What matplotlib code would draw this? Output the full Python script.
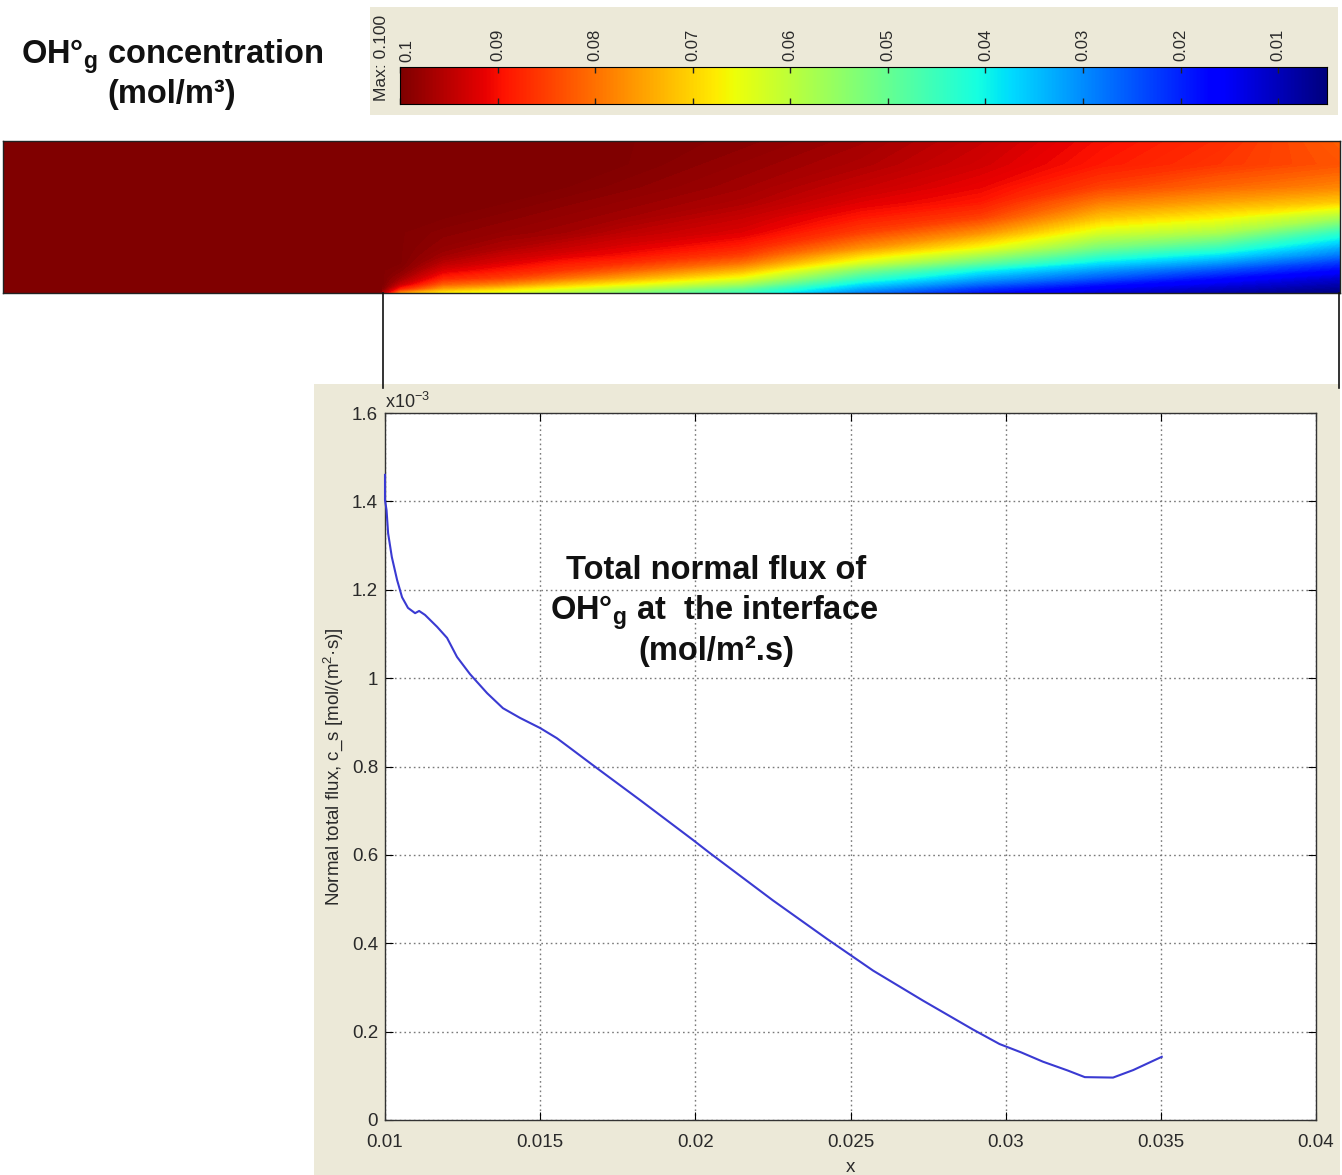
import numpy as np
import matplotlib
matplotlib.use('Agg')
import matplotlib.pyplot as plt
from matplotlib.lines import Line2D
from matplotlib.patches import Rectangle

plt.rcParams['mathtext.fontset'] = 'custom'
plt.rcParams['mathtext.rm'] = 'Liberation Sans'
plt.rcParams['mathtext.bf'] = 'Liberation Sans:bold'

# ---------------- data ----------------
# Normal total flux along the interface (values in 1e-3 mol/(m2.s))
flux_x = [0.01, 0.01, 0.01005, 0.0101, 0.01022, 0.01039, 0.01055, 0.01074,
          0.01097, 0.0111, 0.01129, 0.01168, 0.012, 0.01232, 0.01274, 0.01329,
          0.0138, 0.01435, 0.015, 0.01554, 0.01596, 0.0167, 0.01822, 0.01992,
          0.02047, 0.0225, 0.02424, 0.02573, 0.02734, 0.02894, 0.0298, 0.0305,
          0.0312, 0.032, 0.03255, 0.03346, 0.03411, 0.03503]
flux_y = [1.46, 1.403, 1.38, 1.328, 1.274, 1.222, 1.183, 1.159,
          1.147, 1.152, 1.143, 1.116, 1.091, 1.048, 1.009, 0.966,
          0.932, 0.91, 0.887, 0.864, 0.842, 0.803, 0.724, 0.634,
          0.604, 0.497, 0.41, 0.338, 0.27, 0.205, 0.172, 0.153,
          0.132, 0.112, 0.097, 0.096, 0.113, 0.143]
x_ticks = [0.01, 0.015, 0.02, 0.025, 0.03, 0.035, 0.04]
x_ticklabels = ['0.01', '0.015', '0.02', '0.025', '0.03', '0.035', '0.04']
y_ticks = [0, 0.2, 0.4, 0.6, 0.8, 1.0, 1.2, 1.4, 1.6]
y_ticklabels = ['0', '0.2', '0.4', '0.6', '0.8', '1', '1.2', '1.4', '1.6']

# Concentration field (mol/m3) read on a grid: columns = position along
# the domain (fraction of length), rows = height above the interface (fraction)
# Upstream of x = 0.284 the field is uniform at c_max.
field_x = [0.284, 0.297, 0.329, 0.374, 0.418, 0.463, 0.553,
           0.642, 0.731, 0.821, 0.910, 1.0]
field_h = [0.0, 0.03, 0.06, 0.1, 0.15, 0.2, 0.25, 0.3, 0.4, 0.5, 0.6, 0.7,
           0.85, 1.0]
field_cols = [
    [0.095, 0.099, 0.1, 0.1, 0.1, 0.1, 0.1, 0.1, 0.1, 0.1, 0.1, 0.1, 0.1, 0.1],
    [0.075, 0.088, 0.094, 0.097, 0.099, 0.1, 0.1, 0.1, 0.1, 0.1, 0.1, 0.1, 0.1, 0.1],
    [0.066, 0.075, 0.082, 0.088, 0.092, 0.095, 0.097, 0.098, 0.099, 0.1, 0.1, 0.1, 0.1, 0.1],
    [0.063, 0.070, 0.078, 0.085, 0.089, 0.092, 0.094, 0.096, 0.098, 0.099, 0.1, 0.1, 0.1, 0.1],
    [0.058, 0.065, 0.072, 0.080, 0.086, 0.089, 0.092, 0.094, 0.097, 0.098, 0.099, 0.1, 0.1, 0.1],
    [0.053, 0.060, 0.067, 0.075, 0.082, 0.087, 0.090, 0.092, 0.095, 0.097, 0.098, 0.099, 0.1, 0.1],
    [0.045, 0.050, 0.057, 0.065, 0.073, 0.080, 0.085, 0.088, 0.092, 0.094, 0.096, 0.097, 0.098, 0.099],
    [0.028, 0.033, 0.038, 0.045, 0.053, 0.063, 0.070, 0.077, 0.085, 0.089, 0.092, 0.094, 0.096, 0.097],
    [0.018, 0.022, 0.027, 0.033, 0.040, 0.050, 0.058, 0.066, 0.077, 0.085, 0.089, 0.091, 0.093, 0.094],
    [0.012, 0.015, 0.019, 0.025, 0.031, 0.038, 0.045, 0.052, 0.063, 0.072, 0.079, 0.085, 0.089, 0.090],
    [0.008, 0.011, 0.014, 0.018, 0.024, 0.031, 0.038, 0.045, 0.058, 0.067, 0.075, 0.081, 0.086, 0.087],
    [0.005, 0.007, 0.009, 0.012, 0.017, 0.022, 0.028, 0.033, 0.044, 0.058, 0.071, 0.078, 0.083, 0.082],
]
cbar_ticks = [0.1, 0.09, 0.08, 0.07, 0.06, 0.05, 0.04, 0.03, 0.02, 0.01]
cbar_ticklabels = ['0.1', '0.09', '0.08', '0.07', '0.06', '0.05', '0.04',
                   '0.03', '0.02', '0.01']
c_min, c_max = 0.005, 0.1

# ---------------- figure ----------------
W, H = 1342, 1175
fig = plt.figure(figsize=(W / 100, H / 100), dpi=100)
fig.patch.set_facecolor('white')
BEIGE = '#ece9d8'
jet = plt.get_cmap('jet')


def fbox(x0, y0, x1, y1):
    """pixel box (top-left origin) -> figure fraction [l, b, w, h]"""
    return [x0 / W, 1 - y1 / H, (x1 - x0) / W, (y1 - y0) / H]


def fx(px):
    return px / W


def fy(py):
    return 1 - py / H


# beige panels (behind everything)
for (x0, y0, x1, y1) in [(370, 7, 1338, 115), (314, 384, 1340, 1175)]:
    l, b, w, h = fbox(x0, y0, x1, y1)
    fig.patches.append(Rectangle((l, b), w, h, transform=fig.transFigure,
                                 facecolor=BEIGE, edgecolor='none', zorder=-10))

bold = dict(family='Liberation Sans', weight='bold', color='#111111')
small = dict(family='Liberation Sans', color='#2a2a2a')

# title
fig.text(fx(172), fy(63), 'OH°$_{\\mathbf{g}}$ concentration', ha='center',
         va='baseline', fontsize=23.5, **bold)
fig.text(fx(172), fy(103), '(mol/m³)', ha='center', va='baseline',
         fontsize=23.5, **bold)

# colorbar
cax = fig.add_axes(fbox(400, 67, 1327, 104))
grad = np.linspace(c_max, c_min, 512)[None, :]
cax.imshow(grad, extent=[c_max, c_min, 0, 1], aspect='auto', cmap='jet',
           vmin=c_min, vmax=c_max, interpolation='bilinear')
cax.set_xlim(c_max, c_min)
cax.set_yticks([])
cax.set_xticks(cbar_ticks)
cax.set_xticklabels([''] + cbar_ticklabels[1:], fontsize=12, **small)
cax.tick_params(axis='x', which='both', top=True, bottom=True, direction='in',
                length=4, width=1, labeltop=True, labelbottom=False,
                labelrotation=90, pad=4, color='#222222')
# first label sits just inside the bar's left end
cax.annotate(cbar_ticklabels[0], xy=(cbar_ticks[0], 1),
             xycoords=('data', 'axes fraction'), xytext=(7, 5),
             textcoords='offset pixels', rotation=90, ha='center',
             va='bottom', fontsize=12, **small)
for s in cax.spines.values():
    s.set_linewidth(0.8)
fig.text(fx(381), fy(58), 'Max: 0.100', rotation=90, ha='center', va='center',
         fontsize=12.5, **small)

# concentration field
fax = fig.add_axes(fbox(3, 141, 1340, 293))
fax.set_facecolor(jet(1.0))
Z = np.array(field_cols).T
levels = np.linspace(0.0045, 0.1005, 160)
fax.contourf(field_x, field_h, Z, levels=levels, cmap='jet', vmin=c_min,
             vmax=c_max, extend='both', antialiased=False)
fax.set_xlim(0, 1)
fax.set_ylim(0, 1)
fax.set_xticks([])
fax.set_yticks([])
for s in fax.spines.values():
    s.set_linewidth(1.0)
    s.set_color('#222222')

# connector lines
for px in (383, 1339):
    fig.lines.append(Line2D([fx(px), fx(px)], [fy(293), fy(388)],
                            transform=fig.transFigure, color='#111111', lw=1.2))

# flux plot
ax = fig.add_axes(fbox(385, 413, 1316, 1120))
ax.set_facecolor('white')
ax.plot(flux_x, flux_y, color='#3a3ad2', lw=1.5, zorder=3, clip_on=False)
ax.set_xlim(0.01, 0.04)
ax.set_ylim(0, 1.6)
ax.set_xticks(x_ticks)
ax.set_xticklabels(x_ticklabels)
ax.set_yticks(y_ticks)
ax.set_yticklabels(y_ticklabels)
ax.grid(True, color='#7a7a7a', linestyle=(0, (1.2, 2.2)), lw=1.0)
ax.tick_params(direction='in', length=6, top=True, right=True,
               labelsize=13.5, labelcolor='#2a2a2a')
ax.tick_params(axis='x', pad=10)
ax.tick_params(axis='y', pad=5)
for lab in ax.get_xticklabels() + ax.get_yticklabels():
    lab.set_family('Liberation Sans')
for s in ax.spines.values():
    s.set_linewidth(1.0)
    s.set_color('#333333')
ax.set_xlabel('x', fontsize=13.5, labelpad=6, **small)
ax.set_ylabel('Normal total flux, c_s [mol/(m$^2$·s)]', fontsize=13.5,
              labelpad=4, **small)
ax.text(0.0, 1.002, 'x10$^{-3}$', transform=ax.transAxes, ha='left',
        va='bottom', fontsize=13, **small)

# annotation
fig.text(fx(716), fy(579), 'Total normal flux of', ha='center',
         va='baseline', fontsize=23.5, **bold)
fig.text(fx(714), fy(619), 'OH°$_{\\mathbf{g}}$ at  the interface',
         ha='center', va='baseline', fontsize=23.5, **bold)
fig.text(fx(716), fy(660), '(mol/m².s)', ha='center', va='baseline',
         fontsize=23.5, **bold)

fig.savefig('out.png', dpi=100, facecolor='white')
